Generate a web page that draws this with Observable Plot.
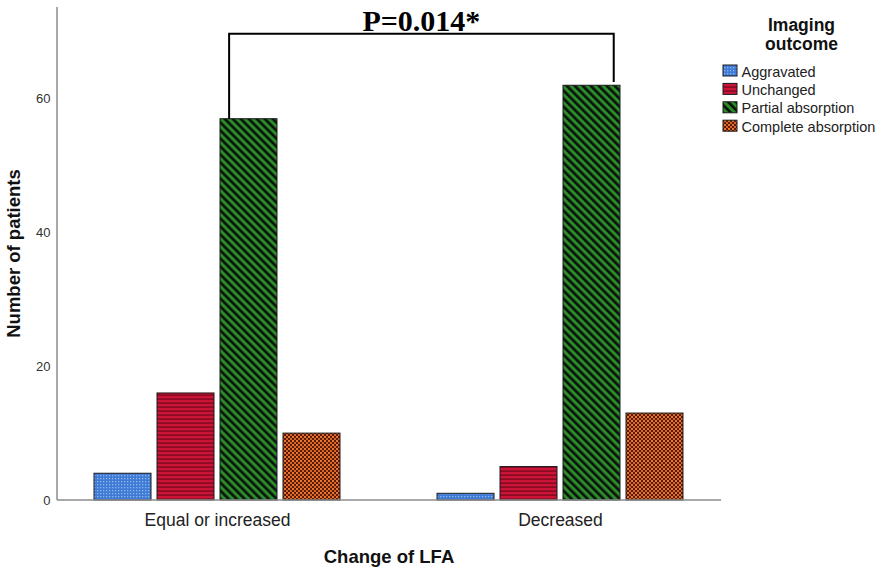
<!DOCTYPE html>
<html><head><meta charset="utf-8">
<script src="https://cdn.jsdelivr.net/npm/d3@7"></script>
<script src="https://cdn.jsdelivr.net/npm/@observablehq/plot@0.6"></script>
<style>body{margin:0;background:#fff} svg{display:block}</style>
</head><body><div id="chart"></div>
<script>
const groups = ["Equal or increased", "Decreased"];
const outcomes = ["Aggravated", "Unchanged", "Partial absorption", "Complete absorption"];
const equalValues = [4, 16, 57, 10];
const decreasedValues = [1, 5, 62, 13];
const yTicks = [0, 20, 40, 60];
const yMax = 73.7;
const pLabel = "P=0.014*";
const bracketLevel = 69.7;
const legendTitle = ["Imaging", "outcome"];
const xTitle = "Change of LFA";
const yTitle = "Number of patients";
const patternIds = ["pat-agg", "pat-unch", "pat-part", "pat-comp"];

const data = [];
groups.forEach((g, gi) => outcomes.forEach((o, oi) =>
  data.push({group: g, outcome: o, value: (gi === 0 ? equalValues : decreasedValues)[oi]})));

const W = 886, H = 572, mL = 57, mR = 165, mT = 7, mB = 72;
const plot = Plot.plot({
  width: W, height: H, marginLeft: mL, marginRight: mR, marginTop: mT, marginBottom: mB,
  style: {fontFamily: "'Liberation Sans', Arial, sans-serif", background: "#fff", overflow: "visible"},
  fx: {domain: groups, paddingInner: 0.067, paddingOuter: 0, label: null},
  x: {domain: outcomes, paddingInner: 0.1, paddingOuter: 0.57, axis: null},
  y: {domain: [0, yMax], label: null},
  color: {domain: outcomes, range: patternIds.map(id => `url(#${id})`)},
  marks: [
    Plot.axisY({ticks: yTicks, tickSize: 0, tickPadding: 7, fontSize: 13, color: "#333", label: null}),
    Plot.axisFx({anchor: "bottom", tickSize: 0, tickPadding: 13, fontSize: 17.5, color: "#222", label: null}),
    Plot.barY(data, {fx: "group", x: "outcome", y: "value", fill: "outcome", stroke: "#1a1a1a", strokeWidth: 1})
  ]
});
document.getElementById("chart").appendChild(plot);

const svg = d3.select(plot);
const defs = svg.insert("defs", ":first-child");
function pat(id, w, h, bg, extra, transform) {
  const p = defs.append("pattern").attr("id", id).attr("patternUnits", "userSpaceOnUse")
    .attr("width", w).attr("height", h);
  if (transform) p.attr("patternTransform", transform);
  p.append("rect").attr("width", w).attr("height", h).attr("fill", bg);
  extra(p);
}
pat("pat-agg", 3, 3, "#3f7bd4", p => {
  p.append("rect").attr("x", 1).attr("y", 1).attr("width", 1.3).attr("height", 1.3).attr("fill", "#8db6f0");
});
pat("pat-unch", 4, 4, "#cc1438", p => {
  p.append("rect").attr("x", 0).attr("y", 2.4).attr("width", 4).attr("height", 1.4).attr("fill", "#7a0a1e");
});
pat("pat-part", 5.66, 5.66, "#2b8a2b", p => {
  p.append("rect").attr("x", 0).attr("y", 0).attr("width", 2.6).attr("height", 5.66).attr("fill", "#0a120a");
}, "rotate(-45)");
pat("pat-comp", 4, 4, "#5a1c06", p => {
  p.append("rect").attr("x", 0).attr("y", 0).attr("width", 2).attr("height", 2).attr("fill", "#e8762c");
  p.append("rect").attr("x", 2).attr("y", 2).attr("width", 2).attr("height", 2).attr("fill", "#d9642a");
});

const ys = plot.scale("y"), fxS = plot.scale("fx"), xS = plot.scale("x");
const y0 = ys.apply(0), yTop = ys.apply(yMax);
const axisColor = "#8c8c8c";
svg.append("line").attr("x1", mL).attr("x2", mL).attr("y1", yTop).attr("y2", y0)
  .attr("stroke", axisColor).attr("stroke-width", 1.5);
svg.append("line").attr("x1", mL).attr("x2", W - mR).attr("y1", y0).attr("y2", y0)
  .attr("stroke", axisColor).attr("stroke-width", 1.5);

// significance bracket between the two "Partial absorption" bars
const partial = outcomes[2];
const bw = xS.bandwidth;
const barLeft = g => fxS.apply(g) - mL + xS.apply(partial);
const xL = barLeft(groups[0]) + bw * 0.16;
const xR = barLeft(groups[1]) + bw * 0.89;
const vL = equalValues[2], vR = decreasedValues[2] + 0.5;
svg.append("path")
  .attr("d", `M${xL},${ys.apply(vL)}V${ys.apply(bracketLevel)}H${xR}V${ys.apply(vR)}`)
  .attr("fill", "none").attr("stroke", "#000").attr("stroke-width", 2);
svg.append("text").attr("x", (xL + xR) / 2).attr("y", ys.apply(bracketLevel) - 3)
  .attr("text-anchor", "middle").attr("font-family", "'Liberation Serif', 'Times New Roman', serif")
  .attr("font-weight", "bold").attr("font-size", 30).attr("fill", "#000").text(pLabel);

// axis titles
svg.append("text").attr("transform", `translate(19.5,${(yTop + y0) / 2}) rotate(-90)`)
  .attr("text-anchor", "middle").attr("font-weight", "bold").attr("font-size", 18.5).attr("fill", "#111").text(yTitle);
svg.append("text").attr("x", (mL + W - mR) / 2).attr("y", 563)
  .attr("text-anchor", "middle").attr("font-weight", "bold").attr("font-size", 18.5).attr("fill", "#111").text(xTitle);

// legend
const lg = svg.append("g");
legendTitle.forEach((t, i) => lg.append("text").attr("x", 801.5).attr("y", 30.5 + i * 19)
  .attr("text-anchor", "middle").attr("font-weight", "bold").attr("font-size", 17.5).attr("fill", "#111").text(t));
outcomes.forEach((o, i) => {
  lg.append("rect").attr("x", 723).attr("y", 65 + i * 18.4).attr("width", 14).attr("height", 11)
    .attr("fill", `url(#${patternIds[i]})`).attr("stroke", "#1a1a1a").attr("stroke-width", 1);
  lg.append("text").attr("x", 741.5).attr("y", 76.5 + i * 18.4).attr("text-anchor", "start")
    .attr("font-size", 14.5).attr("fill", "#222").text(o);
});
</script></body></html>
